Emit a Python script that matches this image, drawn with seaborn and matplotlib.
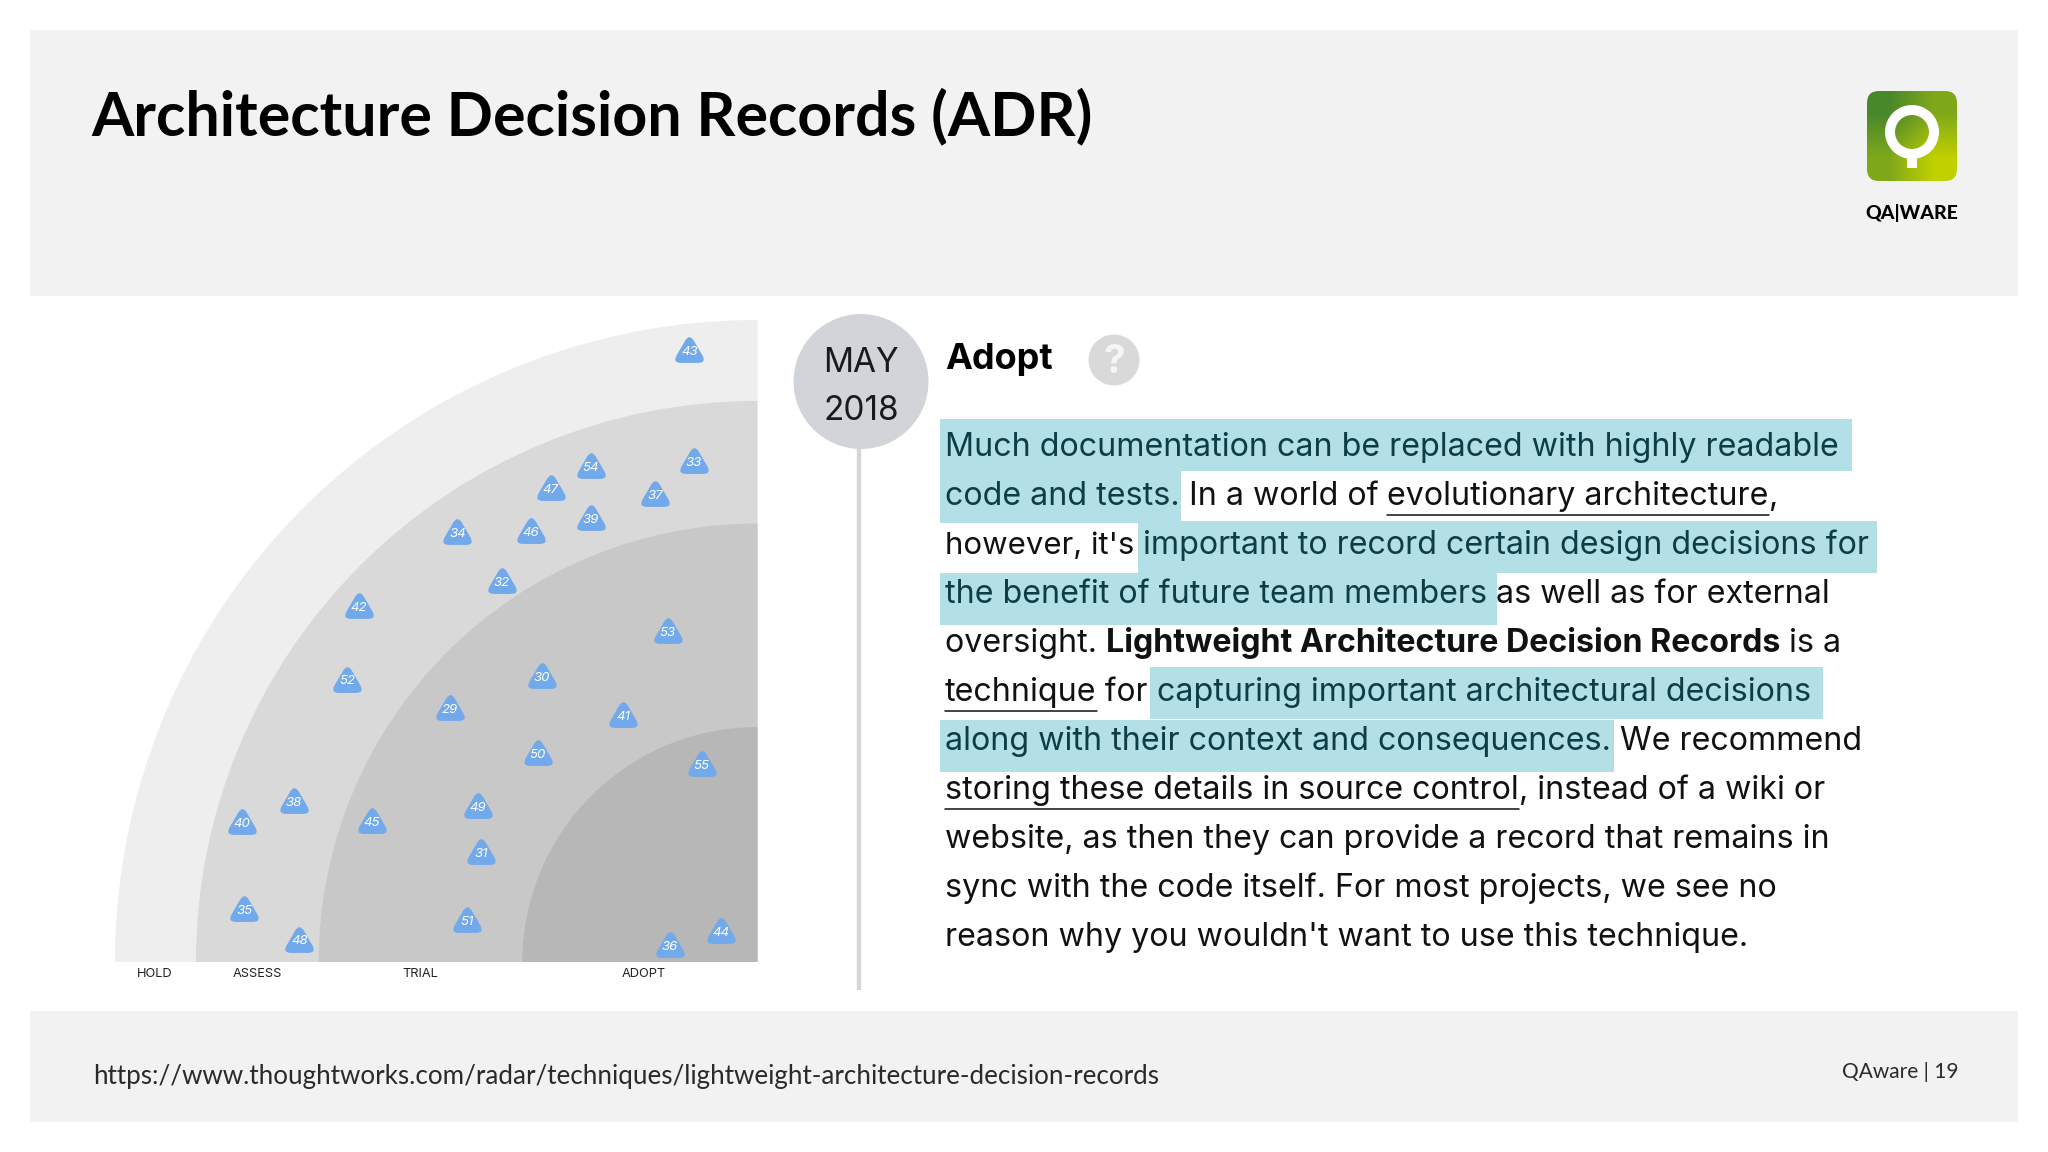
import matplotlib
matplotlib.use("Agg")
import matplotlib.pyplot as plt
import numpy as np
import pandas as pd
import seaborn as sns
from matplotlib.patches import Wedge, Rectangle, Circle, FancyBboxPatch
from matplotlib.path import Path

TITLE = "Architecture Decision Records (ADR)"
URL = "https://www.thoughtworks.com/radar/techniques/lightweight-architecture-decision-records"
PAGE = "QAware | 19"
HEADING = "Adopt"
DATE_LINES = ["MAY", "2018"]

ring_names = ["HOLD", "ASSESS", "TRIAL", "ADOPT"]
ring_radii = [1.0, 0.874, 0.683, 0.366]
ring_colors = ["#eeeeee", "#d9d9d9", "#c8c8c8", "#b7b7b7"]
ring_label_x = [-0.938, -0.779, -0.525, -0.177]

blip_ids = [43, 33, 54, 47, 37, 39, 46, 34, 32, 42, 53, 52, 30, 29, 41, 50, 55, 49, 38, 40, 45, 31, 35, 51, 48, 44, 36]
blip_x = [-.106, -.099, -.259, -.322, -.159, -.259, -.353, -.467, -.398, -.620, -.140, -.639, -.335, -.479, -.209,
          -.342, -.087, -.435, -.722, -.803, -.600, -.430, -.799, -.452, -.713, -.057, -.136]
blip_y = [.953, .780, .773, .738, .729, .691, .672, .670, .593, .554, .516, .440, .445, .396, .385,
          .326, .309, .243, .251, .218, .219, .172, .083, .066, .035, .048, .026]

body_lines = [
    [("h", "Much documentation can be replaced with highly readable")],
    [("h", "code and tests."), ("n", " In a world of "), ("u", "evolutionary architecture"), ("n", ",")],
    [("n", "however, it's "), ("h", "important to record certain design decisions for")],
    [("h", "the benefit of future team members"), ("n", " as well as for external")],
    [("n", "oversight. "), ("b", "Lightweight Architecture Decision Records"), ("n", " is a")],
    [("u", "technique"), ("n", " for "), ("h", "capturing important architectural decisions")],
    [("h", "along with their context and consequences."), ("n", " We recommend")],
    [("u", "storing these details in source control"), ("n", ", instead of a wiki or")],
    [("n", "website, as then they can provide a record that remains in")],
    [("n", "sync with the code itself. For most projects, we see no")],
    [("n", "reason why you wouldn't want to use this technique.")],
]

sns.set_theme(style="white")
plt.rcParams["font.family"] = ["Inter", "DejaVu Sans"]

fig = plt.figure(figsize=(20.48, 11.52), dpi=100, facecolor="white")
page = fig.add_axes([0, 0, 1, 1])
page.set_xlim(0, 2048)
page.set_ylim(1152, 0)
page.axis("off")

# bands
page.add_patch(Rectangle((30, 30), 1988, 266, fc="#f2f2f2", ec="none"))
page.add_patch(Rectangle((30, 1011), 1988, 111, fc="#f2f2f2", ec="none"))
page.text(91, 135, TITLE, family="Lato", weight="bold", fontsize=43.8, color="#000000", va="baseline")
page.text(93, 1084, URL, family="Lato", weight="normal", fontsize=18.7, color="#2a2a2a", va="baseline")
page.text(1958, 1078, PAGE, family="Lato", weight="normal", fontsize=15, color="#2a2a2a", ha="right", va="baseline")

# logo
box = FancyBboxPatch((1873, 97), 78, 78, boxstyle="round,pad=6,rounding_size=12", fc="none", ec="none")
page.add_patch(box)
grad = page.imshow(np.array([[[0.29, 0.53, 0.17], [0.50, 0.66, 0.10]],
                             [[0.50, 0.66, 0.10], [0.76, 0.82, 0.0]]]),
                   extent=(1867, 1957, 181, 91), interpolation="bilinear", aspect="auto", zorder=1)
grad.set_clip_path(box)
page.set_xlim(0, 2048)
page.set_ylim(1152, 0)
page.add_patch(Circle((1912, 132), 22, fc="none", ec="white", lw=7.2, zorder=2))
page.add_patch(Rectangle((1907, 155), 10, 13, fc="white", ec="none", zorder=2))
page.text(1912, 219, "QA|WARE", family="Lato", weight="black", fontsize=14, color="black", ha="center", va="baseline")

# timeline
page.plot([859, 859], [440, 990], color="#d4d7da", lw=3.2, solid_capstyle="butt", zorder=1)
page.add_patch(Circle((861, 381.5), 67.5, fc="#d1d5da", ec="none", zorder=2))
page.text(861, 372, DATE_LINES[0], fontsize=24, weight="normal", color="#1a1a1a", ha="center", va="baseline", zorder=3)
page.text(861, 420, DATE_LINES[1], fontsize=24, weight="normal", color="#1a1a1a", ha="center", va="baseline", zorder=3)
page.text(945, 369, HEADING, fontsize=26, weight="bold", color="#000000", va="baseline")
page.add_patch(Circle((1114, 360), 25.5, fc="#d9d9d9", ec="none"))
page.text(1114, 373, "?", fontsize=28, weight="bold", color="#f5f5f5", ha="center", va="baseline")

# body text
for l, t, r, b in [(940, 418.7, 1852, 470.7), (940, 470.7, 1181, 522.7), (1138, 521, 1877, 573),
                   (940, 573, 1497, 625), (1150, 667, 1823, 719), (940, 720, 1614, 772)]:
    page.add_patch(Rectangle((l, t), r - l, b - t, fc="#b2e0e6", ec="none", zorder=1))
run_starts = {(2, 1): 1143, (5, 2): 1157}
run_sizes = {(2, 0): 22.4, (5, 1): 22.8}

FS = 23.2
renderer = fig.canvas.get_renderer()
def width(s, weight, fs):
    a = page.text(0, 0, s + ".", fontsize=fs, weight=weight)
    b = page.text(0, 0, ".", fontsize=fs, weight=weight)
    w = a.get_window_extent(renderer).width - b.get_window_extent(renderer).width
    a.remove(); b.remove()
    return w

x0, y0, dy = 945, 455.7, 49.05
for i, runs in enumerate(body_lines):
    x = x0
    y = y0 + i * dy
    for j, (kind, s) in enumerate(runs):
        x = run_starts.get((i, j), x)
        fs = run_sizes.get((i, j), FS)
        weight = "bold" if kind == "b" else "normal"
        w = width(s, weight, fs)
        col = "#0e3d45" if kind == "h" else "#111111"
        page.text(x, y, s, fontsize=fs, weight=weight, color=col, va="baseline", zorder=3)
        if kind == "u":
            page.plot([x, x + w], [y + 10, y + 10], color="#111111", lw=1.1, zorder=3)
        x += w

# radar
radar = fig.add_axes([115 / 2048, 1 - 962 / 1152, 642.5 / 2048, 642 / 1152], facecolor="none")
for r, c in zip(ring_radii, ring_colors):
    radar.add_patch(Wedge((0, 0), r, 90, 180, fc=c, ec="none", zorder=1))

v = np.array([[0, 1], [1, -0.72], [-1, -0.72]], dtype=float)
verts, codes = [], []
k = 0.26
for i in range(3):
    p, q, n = v[i - 1], v[i], v[(i + 1) % 3]
    a = q + (p - q) * k
    b = q + (n - q) * k
    verts += [a, q, b]
    codes += [Path.LINETO if i else Path.MOVETO, Path.CURVE3, Path.CURVE3]
verts.append(verts[0])
codes.append(Path.CLOSEPOLY)
blip_marker = Path(np.array(verts), codes)

blips = pd.DataFrame({"id": blip_ids, "x": blip_x, "y": blip_y})
sns.scatterplot(data=blips, x="x", y="y", ax=radar, marker=blip_marker, s=620, color="#72a9ea", linewidth=0,
                legend=False, zorder=3)
for b, x, y in zip(blip_ids, blip_x, blip_y):
    radar.text(x, y - 0.003, str(b), fontsize=9.5, style="italic", weight="normal", color="white", ha="center", va="center", zorder=4)
radar.set_xlim(-1, 0)
radar.set_ylim(0, 1)
radar.axis("off")
for name, x in zip(ring_names, ring_label_x):
    radar.text(x, -0.0185, name, fontsize=9.2, color="#222222", ha="center", va="center", clip_on=False)

fig.savefig("out.png", dpi=100, facecolor="white")
